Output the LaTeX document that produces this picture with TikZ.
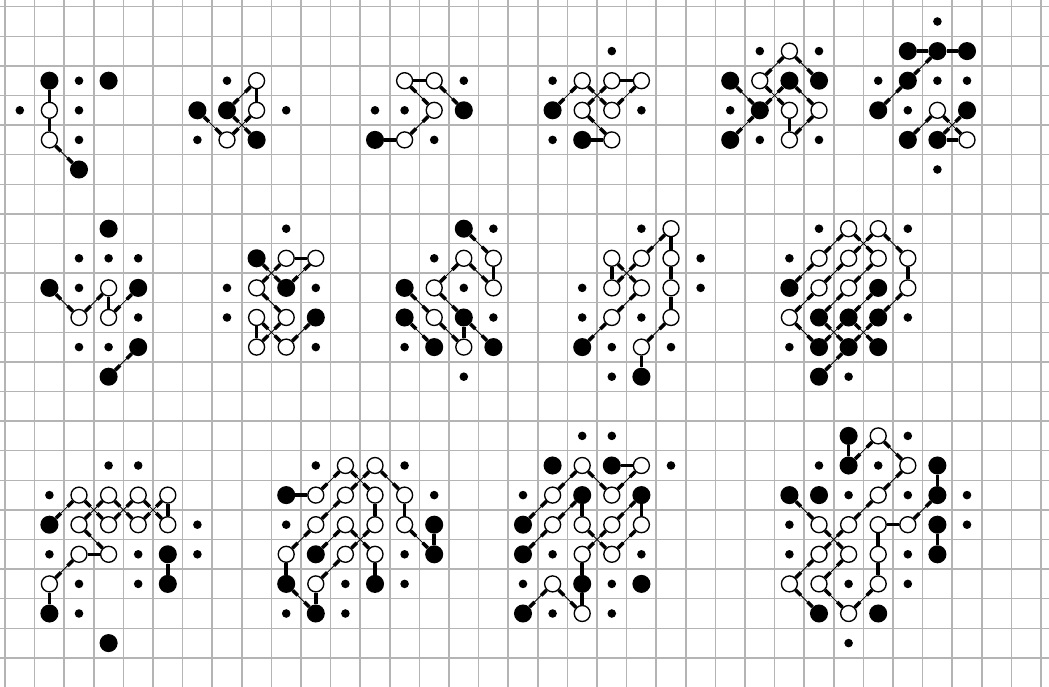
\documentclass[tikz,border=0pt]{standalone}
\usetikzlibrary{calc}
\definecolor{gridgray}{HTML}{B4B4B4}
\tikzset{
  gridline/.style={gridgray,line width=1.5pt},
  big/.style={circle,fill=black,inner sep=0pt,minimum size=6.1mm},
  hole/.style={circle,draw=black,fill=white,line width=1.3pt,inner sep=0pt,minimum size=5.4mm},
  pip/.style={circle,fill=black,inner sep=0pt,minimum size=2.9mm},
  link/.style={line width=3.4pt},
  thinlink/.style={line width=0.8pt},
}

\begin{document}
\begin{tikzpicture}
  \useasboundingbox (-0.669,0.726) rectangle (34.77,-22.45);
  \clip (-0.669,0.726) rectangle (34.77,-22.45);
  % background grid
  \foreach \x in {-0.5,0.5,...,34.6} \draw[gridline] (\x,1) -- (\x,-23);
  \foreach \y in {0.5,-0.5,...,-22.6} \draw[gridline] (-1,\y) -- (35,\y);
  % black stones
  \foreach \c/\r in {1/2,3/2,2/5, 6/3,7/3,8/4, 15/3,12/4, 18/3,19/4,
      24/2,26/2,27/2,25/3,24/4, 30/1,31/1,32/1,30/2,29/3,32/3,30/4,31/4,
      3/7,1/9,4/9,4/11,3/12, 8/8,9/9,10/10, 15/7,13/9,13/10,15/10,14/11,16/11,
      19/11,21/12, 26/9,29/9,27/10,28/10,29/10,27/11,28/11,29/11,27/12,
      1/17,5/18,5/19,1/20,3/21, 9/16,14/17,10/18,14/18,9/19,12/19,10/20,
      18/15,20/15,19/16,21/16,17/17,17/18,19/19,21/19,17/20,
      28/14,28/15,31/15,26/16,27/16,31/16,31/17,31/18,27/20,29/20}
    \node[big] (n\c-\r) at (\c,-\r) {};
  % white stones
  \foreach \c/\r in {1/3,1/4, 8/2,8/3,7/4, 13/2,14/2,14/3,13/4,
      19/2,20/2,21/2,19/3,20/3,20/4, 26/1,25/2,26/3,27/3,26/4, 31/3,32/4,
      3/9,2/10,3/10, 9/8,10/8,8/9,8/10,9/10,8/11,9/11,
      15/8,16/8,14/9,16/9,14/10,15/11,
      22/7,20/8,21/8,22/8,20/9,21/9,22/9,20/10,22/10,21/11,
      28/7,29/7,27/8,28/8,29/8,30/8,27/9,28/9,30/9,26/10,
      2/16,3/16,4/16,5/16,2/17,3/17,4/17,5/17,2/18,3/18,1/19,
      11/15,12/15,10/16,11/16,12/16,13/16,10/17,11/17,12/17,13/17,9/18,11/18,12/18,10/19,
      19/15,21/15,18/16,20/16,18/17,19/17,20/17,21/17,19/18,20/18,18/19,19/20,
      29/14,30/15,29/16,27/17,28/17,29/17,30/17,27/18,28/18,29/18,26/19,27/19,29/19,28/20}
    \node[hole] (n\c-\r) at (\c,-\r) {};
  % empty sites
  \foreach \c/\r in {2/2,0/3,2/3,2/4, 7/2,9/3,6/4, 15/2,12/3,13/3,14/4,
      20/1,18/2,21/3,18/4, 25/1,27/1,24/3,25/4,27/4, 31/0,29/2,31/2,32/2,30/3,31/5,
      2/8,3/8,4/8,2/9,4/10,2/11,3/11, 9/7,7/9,10/9,7/10,10/11,
      16/7,14/8,15/9,16/10,13/11,15/12,
      21/7,23/8,19/9,23/9,19/10,21/10,20/11,22/11,20/12,
      27/7,30/7,26/8,30/10,26/11,28/12,
      3/15,4/15,1/16,6/17,1/18,4/18,6/18,2/19,4/19,2/20,
      10/15,13/15,14/16,9/17,13/18,11/19,13/19,9/20,11/20,
      19/14,20/14,22/15,17/16,18/18,21/18,17/19,20/19,18/20,20/20,
      30/14,27/15,29/15,28/16,30/16,32/16,26/17,32/17,26/18,30/18,28/19,30/19,28/21}
    \node[pip] (n\c-\r) at (\c,-\r) {};
  % bonds: thick near both ends, thin in the middle
  \foreach \a/\b in {1-2/1-3,1-3/1-4,1-4/2-5,
      8-2/7-3,8-2/8-3,6-3/7-4,7-3/8-4,8-3/7-4,
      13-2/14-2,13-2/14-3,14-2/15-3,14-3/13-4,12-4/13-4,
      18-3/19-2,19-2/20-3,20-2/21-2,20-2/19-3,21-2/20-3,19-3/20-4,19-4/20-4,
      26-1/25-2,26-1/27-2,24-2/25-3,25-2/26-3,26-2/25-3,26-2/27-3,25-3/24-4,26-3/26-4,27-3/26-4,
      30-1/31-1,31-1/32-1,31-1/30-2,30-2/29-3,31-3/30-4,31-3/32-4,32-3/31-4,31-4/32-4,
      1-9/2-10,2-10/3-9,3-9/3-10,3-10/4-9,4-11/3-12,
      8-8/9-9,9-8/8-9,9-8/10-8,10-8/9-9,8-9/9-10,8-10/8-11,8-10/9-11,9-10/8-11,10-10/9-11,
      15-7/16-8,16-8/16-9,15-8/14-9,15-8/16-9,13-9/14-10,14-9/15-10,13-10/14-11,14-10/15-11,15-10/15-11,15-10/16-11,
      22-7/21-8,22-7/22-8,20-8/20-9,20-8/21-9,21-8/20-9,22-8/22-9,21-9/20-10,22-9/22-10,20-10/19-11,22-10/21-11,21-11/21-12,
      28-7/27-8,28-7/29-8,29-7/28-8,29-7/30-8,27-8/26-9,28-8/27-9,29-8/28-9,30-8/30-9,27-9/26-10,28-9/27-10,30-9/29-10,
      28-10/29-9,26-10/27-11,27-10/28-11,28-10/27-11,28-10/29-11,29-10/28-11,28-11/27-12,
      1-17/2-16,2-16/3-17,3-16/2-17,3-16/4-17,4-16/3-17,4-16/5-17,5-16/4-17,5-16/5-17,
      2-17/3-18,2-18/3-18,2-18/1-19,1-19/1-20,5-18/5-19,
      9-19/9-18,9-18/10-17,10-17/11-16,11-16/12-15,12-15/13-16,13-16/13-17,13-17/14-18,14-17/14-18,
      9-16/10-16,10-16/11-15,11-15/12-16,12-16/12-17,12-17/11-18,11-18/10-19,10-19/10-20,
      10-18/11-17,11-17/12-18,12-18/12-19,9-19/10-20,
      19-15/18-16,19-15/20-16,21-15/20-15,21-15/20-16,18-16/17-17,18-17/17-18,18-17/19-16,
      19-17/19-16,19-17/20-18,20-17/21-16,20-17/19-18,21-17/21-16,21-17/20-18,19-18/19-19,
      18-19/17-20,18-19/19-20,19-20/19-19,
      26-19/27-18,26-19/27-20,27-18/28-17,28-17/29-16,29-16/30-15,30-15/29-14,29-14/28-15,28-14/28-15,
      27-17/26-16,27-17/28-18,28-18/27-19,27-19/28-20,28-20/29-19,29-19/29-18,29-18/29-17,29-17/30-17,
      30-17/31-16,31-15/31-16,31-17/31-18}
  {
    \draw[thinlink] (n\a) -- (n\b);
    \draw[link] (n\a) -- ($(n\a)!0.55cm!(n\b)$);
    \draw[link] (n\b) -- ($(n\b)!0.55cm!(n\a)$);
  }
\end{tikzpicture}
\end{document}
